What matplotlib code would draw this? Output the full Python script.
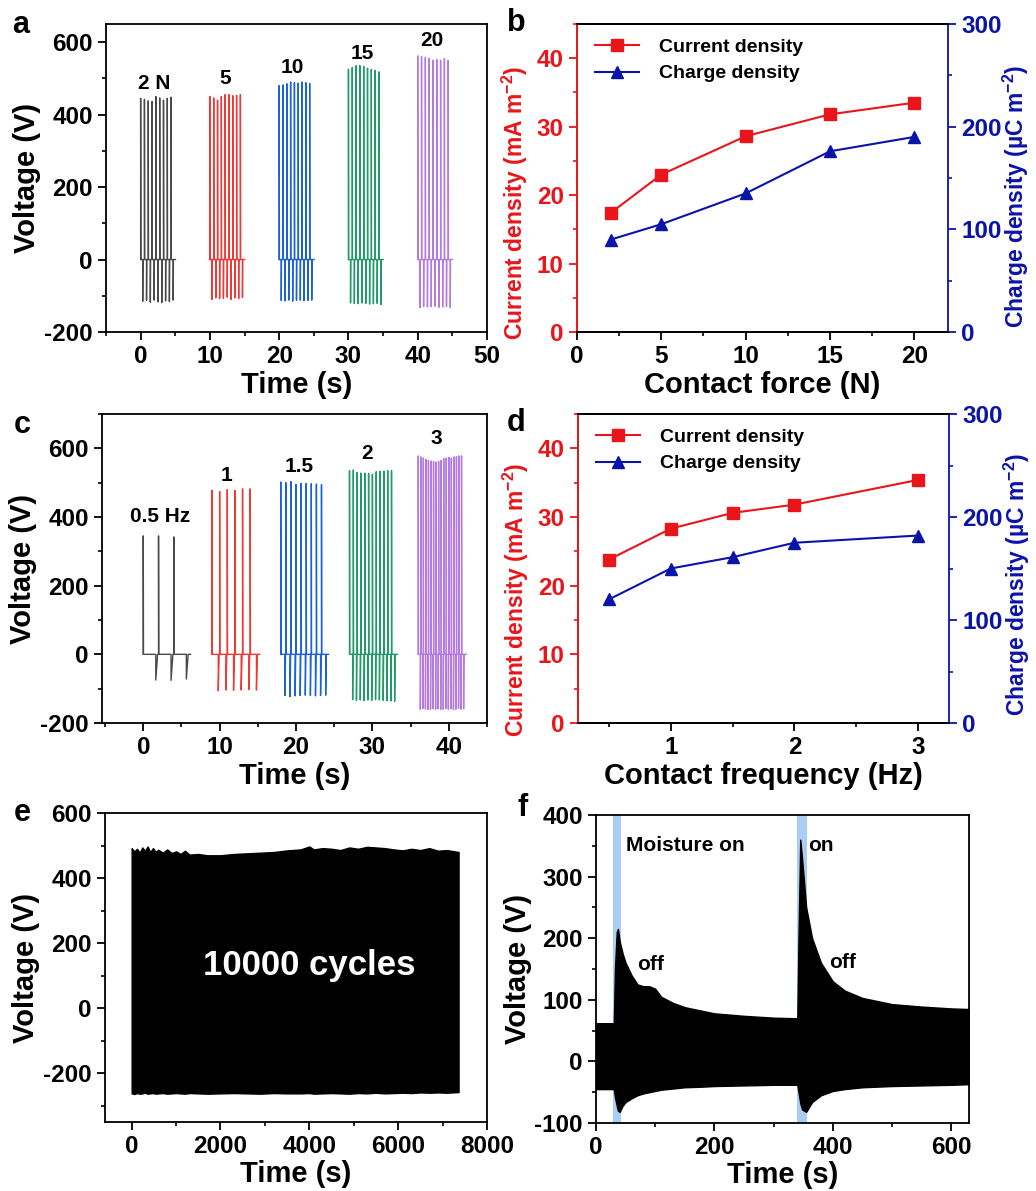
import numpy as np
import matplotlib
matplotlib.use('Agg')
import matplotlib.pyplot as plt
from matplotlib.ticker import MultipleLocator

plt.rcParams['font.family'] = ['Liberation Sans', 'DejaVu Sans']
plt.rcParams['font.weight'] = 'bold'
plt.rcParams['axes.labelweight'] = 'bold'
plt.rcParams['axes.unicode_minus'] = False
plt.rcParams['mathtext.fontset'] = 'custom'
plt.rcParams['mathtext.rm'] = 'Liberation Sans:bold'
plt.rcParams['mathtext.it'] = 'Liberation Sans:bold'
plt.rcParams['mathtext.bf'] = 'Liberation Sans:bold'
plt.rcParams['axes.linewidth'] = 1.3

# ---------------- data ----------------
# a: voltage at different contact forces
force_labels = ['2 N', '5', '10', '15', '20']
force_starts = [0, 10, 20, 30, 40]
force_peaks = [
    [445, 442, 438, 436, 450, 446, 440, 445, 448],
    [450, 446, 440, 450, 455, 455, 452, 453, 455],
    [480, 482, 485, 490, 488, 487, 490, 488, 486],
    [525, 530, 535, 535, 533, 528, 525, 522, 518],
    [562, 560, 558, 555, 550, 552, 550, 555, 550],
]
force_negs = [
    [-115, -113, -118, -112, -117, -119, -114, -116, -112],
    [-110, -106, -108, -107, -104, -110, -106, -108, -105],
    [-113, -114, -112, -115, -113, -112, -114, -113, -112],
    [-120, -121, -122, -120, -121, -123, -122, -121, -124],
    [-133, -130, -131, -130, -129, -132, -131, -130, -133],
]
label_pos_a = [(1.9, 486), (12.2, 500), (21.9, 530), (32, 569), (42.1, 605)]

# c: voltage at different contact frequencies
freq_labels = ['0.5 Hz', '1', '1.5', '2', '3']
freq_values = [0.5, 1, 1.5, 2, 3]
freq_starts = [0, 9, 18, 27, 36]
freq_peaks = [
    [345, 345, 342],
    [478, 474, 480, 477, 482, 482],
    [502, 500, 503, 495, 498, 498, 497, 496, 494],
    [535, 537, 530, 528, 528, 527, 525, 532, 533, 534, 535, 535],
    [578, 575, 572, 568, 565, 563, 562, 560, 562, 565, 570, 572, 574, 572, 575, 576, 578, 578],
]
freq_negs = [
    [-75, -76, -72],
    [-106, -104, -105, -104, -103, -104],
    [-120, -123, -121, -120, -119, -120, -121, -120, -119],
    [-132, -134, -133, -135, -133, -134, -132, -133, -134, -135, -136, -137],
    [-160, -158, -159, -161, -160, -158, -160, -159, -161, -160, -158, -160, -159, -161, -160, -158, -160, -159],
]
label_pos_c = [(2.2, 400), (10.9, 522), (20.4, 548), (29.3, 586), (38.3, 630)]

group_colors = ['#4a4a4a', '#ee3a36', '#1a62d6', '#1f9a68', '#b47ae0']

# b: density vs contact force
force_n = [2, 5, 10, 15, 20]
current_force = [17.4, 23.0, 28.6, 31.8, 33.5]
charge_force = [90, 105, 135, 176, 190]

# d: density vs contact frequency
freq_hz = [0.5, 1, 1.5, 2, 3]
current_freq = [23.8, 28.3, 30.6, 31.8, 35.4]
charge_freq = [120, 150, 161, 175, 182]

# e: stability envelope (10000 cycles)
e_time = [0, 60, 120, 180, 240, 300, 360, 420, 480, 540, 600, 700, 800, 900, 1000, 1100, 1200,
          1300, 1500, 1700, 2000, 2300, 2600, 2900, 3200, 3500, 3800, 4000, 4100, 4300, 4500,
          4700, 4900, 5100, 5300, 5500, 5700, 5900, 6100, 6300, 6500, 6700, 6900, 7100, 7360]
e_upper = [492, 482, 490, 478, 494, 484, 497, 480, 492, 481, 487, 478, 488, 477, 482, 474, 484,
           472, 474, 470, 470, 474, 476, 478, 480, 485, 488, 497, 488, 492, 490, 486, 494, 490,
           496, 494, 492, 488, 485, 490, 486, 492, 484, 486, 480]
e_lower = [-262, -264, -261, -263, -262, -260, -263, -262, -261, -263, -262, -261, -263, -262,
           -261, -262, -263, -261, -262, -263, -262, -261, -262, -263, -261, -262, -262, -261,
           -263, -262, -261, -262, -263, -261, -262, -260, -262, -261, -260, -261, -259, -260,
           -259, -260, -258]

# f: moisture response envelope
f_time = [0, 30, 32, 35, 37, 40, 45, 50, 60, 70, 80, 90, 100, 110, 130, 150, 180, 200,
          250, 300, 340, 342, 345, 348, 355, 365, 380, 400, 420, 450, 500, 550, 600, 630]
f_upper = [62, 62, 150, 210, 215, 195, 175, 160, 140, 125, 122, 122, 118, 105, 95, 88, 82, 78,
           74, 71, 70, 200, 360, 330, 250, 200, 160, 130, 115, 103, 93, 89, 86, 85]
f_lower = [-45, -45, -58, -72, -80, -82, -72, -66, -60, -55, -52, -50, -48, -46, -44, -42, -41, -40,
           -39, -38, -38, -50, -68, -78, -82, -66, -55, -48, -45, -42, -40, -39, -38, -37]
moisture_on = [(28, 43), (340, 356)]

red = '#e8161b'
blue = '#0b14a8'


def spike_trace(t0, period, peaks, negs, lag, recover):
    t, v = [t0], [0]
    ts = t0
    for i, (p, n) in enumerate(zip(peaks, negs)):
        ts = t0 + i * period
        t += [ts, ts, ts + 0.03, ts + lag, ts + lag, ts + lag + recover]
        v += [0, p, 0, 0, n, 0]
    t.append(ts + lag + recover + 0.3)
    v.append(0)
    return t, v


def style_ticks(ax):
    ax.tick_params(which='major', direction='out', length=6, width=1.3, labelsize=17.5)
    ax.tick_params(which='minor', direction='out', length=3, width=1.2)


fig = plt.figure(figsize=(10.36, 11.91), dpi=100)
W, H = 1036, 1191


def add_ax(l, r, t, b):
    return fig.add_axes([l / W, 1 - b / H, (r - l) / W, (b - t) / H])


# ---- panel a
ax = add_ax(106, 487, 24, 332)
for k in range(5):
    t, v = spike_trace(force_starts[k], 0.55, force_peaks[k], force_negs[k], 0.3, 0.03)
    ax.plot(t, v, color=group_colors[k], lw=1.0)
    ax.text(*label_pos_a[k], force_labels[k], ha='center', va='center', fontsize=15)
ax.set_xlim(-5, 50)
ax.set_ylim(-200, 650)
ax.xaxis.set_major_locator(MultipleLocator(10))
ax.xaxis.set_minor_locator(MultipleLocator(5))
ax.yaxis.set_major_locator(MultipleLocator(200))
ax.yaxis.set_minor_locator(MultipleLocator(100))
style_ticks(ax)
ax.set_xlabel('Time (s)', fontsize=21, labelpad=2)
ax.set_ylabel('Voltage (V)', fontsize=21, labelpad=2)

# ---- panel c
ax = add_ax(102, 487, 414, 723)
for k in range(5):
    per = 1.0 / freq_values[k]
    t, v = spike_trace(freq_starts[k], per, freq_peaks[k], freq_negs[k], 0.82 * per, 0.12 * per)
    ax.plot(t, v, color=group_colors[k], lw=1.0)
    ax.text(*label_pos_c[k], freq_labels[k], ha='center', va='center', fontsize=15)
ax.set_xlim(-5.4, 45)
ax.set_ylim(-200, 700)
ax.xaxis.set_major_locator(MultipleLocator(10))
ax.xaxis.set_minor_locator(MultipleLocator(5))
ax.yaxis.set_major_locator(MultipleLocator(200))
ax.yaxis.set_minor_locator(MultipleLocator(100))
style_ticks(ax)
ax.set_xlabel('Time (s)', fontsize=21, labelpad=2)
ax.set_ylabel('Voltage (V)', fontsize=21, labelpad=2)


# ---- panels b, d
def density_panel(ax, x, cur, chg, xlim, xmaj, xmin, xlabel, ly_left, ly_right):
    ax2 = ax.twinx()
    l1, = ax.plot(x, cur, '-s', color=red, lw=1.5, ms=8, label='Current density')
    l2, = ax2.plot(x, chg, '-^', color=blue, lw=1.5, ms=9, label='Charge density')
    ax.set_xlim(*xlim)
    ax.set_ylim(0, 45)
    ax2.set_ylim(0, 300)
    ax.xaxis.set_major_locator(MultipleLocator(xmaj))
    ax.xaxis.set_minor_locator(MultipleLocator(xmin))
    ax.yaxis.set_major_locator(MultipleLocator(10))
    ax.yaxis.set_minor_locator(MultipleLocator(5))
    ax2.yaxis.set_major_locator(MultipleLocator(100))
    ax2.yaxis.set_minor_locator(MultipleLocator(50))
    style_ticks(ax)
    style_ticks(ax2)
    ax.tick_params(axis='y', which='both', colors=red)
    ax2.tick_params(axis='y', which='both', colors=blue)
    ax.spines['left'].set_color(red)
    ax2.spines['left'].set_color(red)
    ax2.spines['right'].set_color(blue)
    ax.spines['right'].set_visible(False)
    ax.set_ylabel('Current density (mA m$^{-2}$)', color=red, fontsize=16.5)
    ax2.set_ylabel('Charge density (µC m$^{-2}$)', color=blue, fontsize=16.5)
    ax.yaxis.set_label_coords(-0.128, ly_left)
    ax2.yaxis.set_label_coords(1.142, ly_right)
    ax.set_xlabel(xlabel, fontsize=21, labelpad=2)
    ax.legend([l1, l2], ['Current density', 'Charge density'], loc='upper left',
              bbox_to_anchor=(0.0, 1.01), frameon=False, fontsize=14,
              handlelength=2.3, handletextpad=1.0, labelspacing=0.45)


ax = add_ax(577, 948, 24, 332)
density_panel(ax, force_n, current_force, charge_force, (0, 22), 5, 2.5, 'Contact force (N)', 0.42, 0.44)
ax = add_ax(578, 949, 414, 723)
density_panel(ax, freq_hz, current_freq, charge_freq, (0.25, 3.25), 1, 0.5, 'Contact frequency (Hz)', 0.40, 0.45)

# ---- panel e
ax = add_ax(105, 487, 813, 1122)
ax.fill_between(e_time, e_lower, e_upper, color='black', lw=1.0)
ax.text(4000, 130, '10000 cycles', color='white', ha='center', va='center', fontsize=25)
ax.set_xlim(-600, 8000)
ax.set_ylim(-350, 600)
ax.xaxis.set_major_locator(MultipleLocator(2000))
ax.xaxis.set_minor_locator(MultipleLocator(1000))
ax.yaxis.set_major_locator(MultipleLocator(200))
ax.yaxis.set_minor_locator(MultipleLocator(100))
style_ticks(ax)
ax.set_xlabel('Time (s)', fontsize=21, labelpad=1)
ax.set_ylabel('Voltage (V)', fontsize=21, labelpad=2)

# ---- panel f
ax = add_ax(596, 969, 815, 1123)
for a0, a1 in moisture_on:
    ax.axvspan(a0, a1, color='#a9cdf4', lw=0)
ax.fill_between(f_time, f_lower, f_upper, color='black', lw=1.0)
ax.text(51, 350, 'Moisture on', ha='left', va='center', fontsize=15)
ax.text(358, 350, 'on', ha='left', va='center', fontsize=15)
ax.text(69, 157, 'off', ha='left', va='center', fontsize=15)
ax.text(394, 161, 'off', ha='left', va='center', fontsize=15)
ax.set_xlim(0, 630)
ax.set_ylim(-100, 400)
ax.xaxis.set_major_locator(MultipleLocator(200))
ax.xaxis.set_minor_locator(MultipleLocator(100))
ax.yaxis.set_major_locator(MultipleLocator(100))
ax.yaxis.set_minor_locator(MultipleLocator(50))
style_ticks(ax)
ax.set_xlabel('Time (s)', fontsize=21, labelpad=1)
ax.set_ylabel('Voltage (V)', fontsize=21, labelpad=2)

# panel letters
for letter, (px, py) in zip('abcdef', [(21, 25), (516, 23), (22, 425), (516, 423), (22, 813), (523, 808)]):
    fig.text(px / W, 1 - py / H, letter, ha='center', va='center', fontsize=22, fontweight='bold')

fig.savefig('out.png', dpi=100)
